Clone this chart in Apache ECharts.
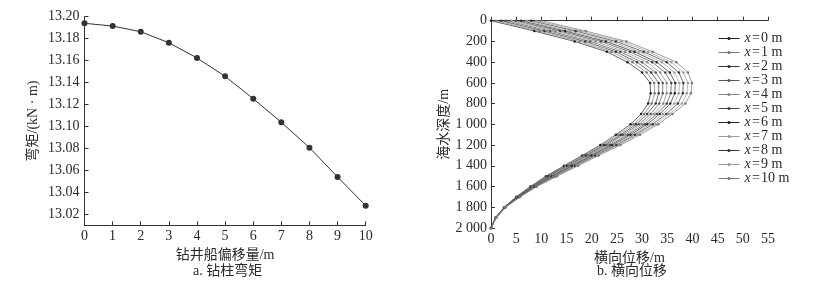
<!DOCTYPE html>
<html><head><meta charset="utf-8">
<script src="https://cdn.jsdelivr.net/npm/echarts@6/dist/echarts.min.js"></script>
<style>html,body{margin:0;padding:0;background:#fff}#c{width:826px;height:282px}</style>
</head><body><div id="c"></div>
<script>
// ---- data: left chart (drill string bending moment) ----
const offsets = [0,1,2,3,4,5,6,7,8,9,10];
const moment = [13.194,13.1915,13.1863,13.1763,13.1624,13.1457,13.1253,13.1038,13.0807,13.054,13.0279];
const momentTicks = [13.02,13.04,13.06,13.08,13.10,13.12,13.14,13.16,13.18,13.20];

// ---- data: right chart (lateral displacement vs water depth) ----
const depths = [0,100,200,300,400,500,600,700,800,900,1000,1100,1200,1300,1400,1500,1600,1700,1800,1900,2000];
const depthTickLabels = ['0','200','400','600','800','1 000','1 200','1 400','1 600','1 800','2 000'];
const seriesNames = ['x=0 m','x=1 m','x=2 m','x=3 m','x=4 m','x=5 m','x=6 m','x=7 m','x=8 m','x=9 m','x=10 m'];
const disp0  = [0, 8.6, 16.6, 23.0, 27.1, 30.0, 31.6, 31.7, 31.2, 29.8, 27.7, 24.8, 21.7, 18.1, 14.5, 10.9, 7.8, 5.0, 2.6, 0.9, 0];
const disp1  = [1, 9.6, 17.6, 23.9, 28.1, 30.9, 32.4, 32.5, 31.9, 30.4, 28.3, 25.3, 22.1, 18.4, 14.8, 11.1, 7.9, 5.1, 2.6, 0.9, 0];
const disp2  = [2, 10.6, 18.7, 24.8, 29.0, 31.8, 33.3, 33.3, 32.7, 31.0, 28.8, 25.8, 22.5, 18.8, 15.1, 11.3, 8.1, 5.2, 2.7, 0.9, 0];
const disp3  = [3, 11.7, 19.7, 25.7, 30.0, 32.7, 34.1, 34.1, 33.4, 31.7, 29.4, 26.2, 22.9, 19.1, 15.3, 11.6, 8.2, 5.2, 2.7, 0.9, 0];
const disp4  = [4, 12.7, 20.7, 26.6, 31.0, 33.6, 34.9, 34.9, 34.2, 32.3, 29.9, 26.7, 23.3, 19.4, 15.6, 11.8, 8.3, 5.3, 2.7, 0.9, 0];
const disp5  = [5, 13.7, 21.8, 27.6, 32.0, 34.6, 35.8, 35.7, 34.9, 32.9, 30.5, 27.2, 23.7, 19.8, 15.9, 12.0, 8.5, 5.4, 2.8, 1.0, 0];
const disp6  = [6, 14.7, 22.8, 28.5, 32.9, 35.5, 36.6, 36.5, 35.6, 33.5, 31.0, 27.7, 24.1, 20.1, 16.2, 12.2, 8.6, 5.5, 2.8, 1.0, 0];
const disp7  = [7, 15.7, 23.8, 29.4, 33.9, 36.4, 37.4, 37.3, 36.4, 34.1, 31.6, 28.2, 24.5, 20.4, 16.5, 12.4, 8.7, 5.6, 2.8, 1.0, 0];
const disp8  = [8, 16.8, 24.8, 30.3, 34.9, 37.3, 38.2, 38.1, 37.1, 34.8, 32.1, 28.6, 24.9, 20.7, 16.7, 12.7, 8.8, 5.6, 2.8, 1.0, 0];
const disp9  = [9, 17.8, 25.9, 31.2, 35.8, 38.2, 39.1, 38.9, 37.9, 35.4, 32.7, 29.1, 25.3, 21.1, 17.0, 12.9, 9.0, 5.7, 2.9, 1.0, 0];
const disp10 = [10, 18.8, 26.9, 32.1, 36.8, 39.1, 39.9, 39.7, 38.6, 36.0, 33.2, 29.6, 25.7, 21.4, 17.3, 13.1, 9.1, 5.8, 2.9, 1.0, 0];
const displacements = [disp0,disp1,disp2,disp3,disp4,disp5,disp6,disp7,disp8,disp9,disp10];

// ---- styles ----
const seriesColors = ['#222','#777','#333','#555','#888','#444','#222','#999','#333','#999','#777'];
const FONT = "'Liberation Serif','Times New Roman','Noto Sans CJK SC',serif";
const TXT = '#2a2a2a';
const AX = '#333';

const chart = echarts.init(document.getElementById('c'), null, {renderer:'canvas'});

const axisCommon = {
  axisLine:{show:true, lineStyle:{color:AX, width:1}},
  axisTick:{show:true, inside:true, length:4, lineStyle:{color:AX}},
  splitLine:{show:false},
  axisLabel:{color:TXT, fontFamily:FONT, fontSize:14},
  nameTextStyle:{color:TXT, fontFamily:FONT, fontSize:14},
  nameLocation:'middle'
};

const rightSeries = displacements.map((arr, k) => ({
  type:'line', name: seriesNames[k], xAxisIndex:1, yAxisIndex:1,
  data: arr.map((v,i) => [v, depths[i]]),
  symbol:'circle', symbolSize:2.5, showSymbol:true,
  lineStyle:{color:seriesColors[k], width:0.7},
  itemStyle:{color:seriesColors[k]},
  silent:true, animation:false
}));

chart.setOption({
  animation:false,
  grid:[
    {left:84.5, top:16.7, width:281.2, height:208.6, containLabel:false},
    {left:491, top:20.7, width:277, height:207.3, containLabel:false}
  ],
  legend:{
    orient:'vertical', left:713, top:26.5, itemGap:0, itemWidth:21, itemHeight:4,
    data: seriesNames,
    lineStyle:{width:1},
    itemStyle:{borderWidth:0},
    formatter: n => '{i|x}{n|\u200A=\u200A' + n.slice(2) + '}',
    textStyle:{color:TXT, fontFamily:FONT, fontSize:14, lineHeight:12.85,
      rich:{i:{fontStyle:'italic', fontFamily:FONT, fontSize:14, color:TXT, lineHeight:12.85},
            n:{fontFamily:FONT, fontSize:14, color:TXT, lineHeight:12.85}}}
  },
  xAxis:[
    Object.assign({}, axisCommon, {gridIndex:0, type:'value', min:0, max:10, interval:1,
      name:'钻井船偏移量/m', nameGap:19,
      axisLabel:Object.assign({}, axisCommon.axisLabel, {margin:4})}),
    Object.assign({}, axisCommon, {gridIndex:1, type:'value', min:0, max:55, interval:5,
      name:'横向位移/m', nameGap:15.5,
      axisLabel:Object.assign({}, axisCommon.axisLabel, {margin:4})})
  ],
  yAxis:[
    Object.assign({}, axisCommon, {gridIndex:0, type:'value', min:13.01, max:13.20,
      name:'弯矩/(kN · m)', nameGap:44, nameRotate:90,
      axisLabel:Object.assign({}, axisCommon.axisLabel, {margin:5, customValues:momentTicks,
        formatter: v => v.toFixed(2)}),
      axisTick:Object.assign({}, axisCommon.axisTick, {customValues:momentTicks})}),
    Object.assign({}, axisCommon, {gridIndex:1, type:'value', min:0, max:2000, interval:200, inverse:true,
      name:'海水深度/m', nameGap:38, nameRotate:90,
      axisLabel:Object.assign({}, axisCommon.axisLabel, {margin:4,
        formatter: v => depthTickLabels[Math.round(v/200)]})})
  ],
  graphic:[
    {type:'text', left:226 - 33, top:264, style:{text:'a. 钻柱弯矩', font:"14px " + FONT, fill:TXT}},
    {type:'text', left:630 - 33, top:264, style:{text:'b. 横向位移', font:"14px " + FONT, fill:TXT}}
  ],
  series:[
    {type:'line', xAxisIndex:0, yAxisIndex:0, data: offsets.map((x,i)=>[x, moment[i]]),
     symbol:'circle', symbolSize:6, lineStyle:{color:'#333', width:1}, itemStyle:{color:'#333'}}
  ].concat(rightSeries)
});
</script></body></html>
